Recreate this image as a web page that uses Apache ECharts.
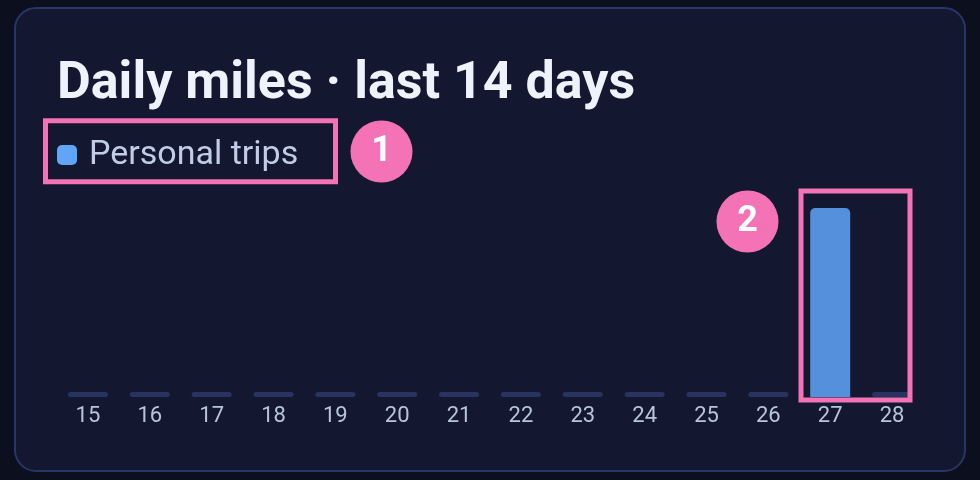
<!DOCTYPE html>
<html>
<head>
<meta charset="utf-8">
<script src="https://cdn.jsdelivr.net/npm/echarts@6/dist/echarts.min.js"></script>
<style>
  html, body { margin: 0; padding: 0; background: #0c0f1d; }
  #card { position: absolute; left: 14px; top: 7px; width: 948px; height: 461px;
          background: #131830; border: 2px solid #283567; border-radius: 22px; }
  #chart { position: absolute; left: 0; top: 0; width: 980px; height: 480px; }
</style>
</head>
<body>
<div id="card"></div>
<div id="chart"></div>
<script>
const titleText = 'Daily miles · last 14 days';
const seriesName = 'Personal trips';
const days = ['15','16','17','18','19','20','21','22','23','24','25','26','27','28'];
const miles = [0, 0, 0, 0, 0, 0, 0, 0, 0, 0, 0, 0, 24, 0];

const chart = echarts.init(document.getElementById('chart'), null, { renderer: 'canvas' });

const option = {
  backgroundColor: 'transparent',
  animation: false,
  title: {
    text: titleText,
    left: 52,
    top: 54,
    textStyle: { fontFamily: 'Roboto', fontSize: 52, fontWeight: 'bold', color: '#eef2fb' }
  },
  legend: {
    left: 52,
    top: 133,
    icon: 'roundRect',
    itemWidth: 20,
    itemHeight: 20,
    data: [{ name: seriesName, itemStyle: { color: '#60a5fa' } }],
    textStyle: { fontFamily: 'Roboto', fontSize: 34, color: '#c3cce6', padding: [0, 0, 0, 7] }
  },
  grid: { left: 57, right: 57, top: 208, bottom: 83, containLabel: false },
  xAxis: {
    type: 'category',
    data: days,
    axisLine: { show: false },
    axisTick: { show: false },
    axisLabel: { fontFamily: 'Roboto', fontSize: 22, color: '#b9c3dc', margin: 8 }
  },
  yAxis: {
    type: 'value',
    min: 0,
    max: 'dataMax',
    show: false,
    splitLine: { show: false }
  },
  series: [
    {
      name: seriesName,
      type: 'bar',
      data: miles,
      barWidth: 40,
      itemStyle: { color: '#5590dc', borderRadius: [5, 5, 0, 0] },
      z: 3
    },
    {
      name: 'empty-day',
      type: 'custom',
      data: miles.map((v, i) => [i, v]),
      renderItem: function (params, api) {
        if (api.value(1) !== 0) return null;
        const p = api.coord([api.value(0), 0]);
        const w = 40, h = 5;
        return {
          type: 'rect',
          shape: { x: p[0] - w / 2, y: p[1] - h, width: w, height: h, r: 2.5 },
          style: { fill: '#283360' }
        };
      },
      z: 2
    }
  ],
  graphic: [
    { type: 'rect', shape: { x: 45.5, y: 120.8, width: 290, height: 61 },
      style: { fill: 'none', stroke: '#f472b6', lineWidth: 5 }, z: 100 },
    { type: 'circle', shape: { cx: 381.5, cy: 151.5, r: 31 },
      style: { fill: '#f472b6' }, z: 100 },
    { type: 'text', x: 381.5, y: 152, z: 101,
      style: { text: '1', fill: '#ffffff', font: 'bold 36px Roboto', align: 'center', verticalAlign: 'middle' } },
    { type: 'rect', shape: { x: 801, y: 191, width: 109, height: 209 },
      style: { fill: 'none', stroke: '#f472b6', lineWidth: 5 }, z: 100 },
    { type: 'circle', shape: { cx: 747.5, cy: 221.5, r: 31 },
      style: { fill: '#f472b6' }, z: 100 },
    { type: 'text', x: 747.5, y: 222, z: 101,
      style: { text: '2', fill: '#ffffff', font: 'bold 36px Roboto', align: 'center', verticalAlign: 'middle' } }
  ]
};
chart.setOption(option);
</script>
</body>
</html>
